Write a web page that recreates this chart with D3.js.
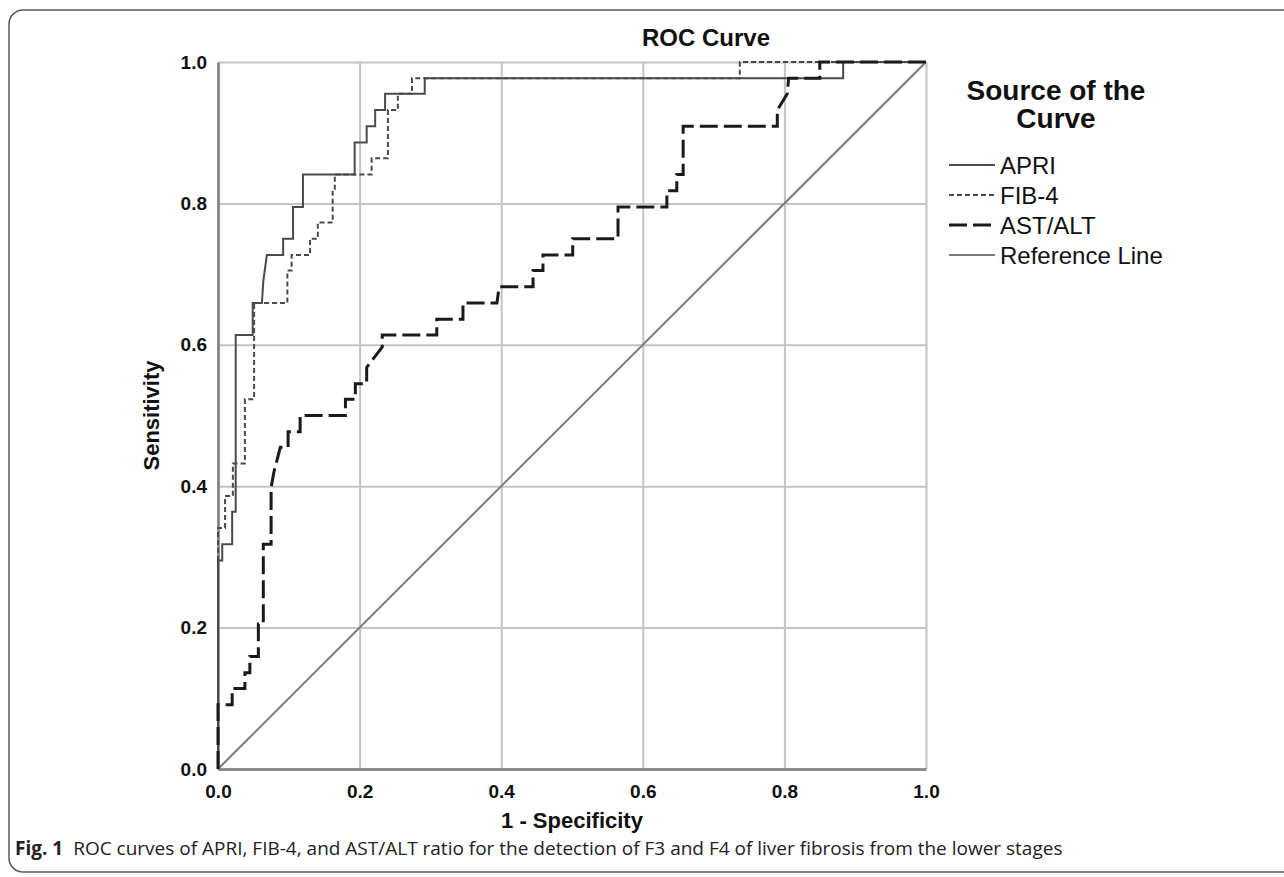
<!DOCTYPE html>
<html>
<head>
<meta charset="utf-8">
<script src="https://cdn.jsdelivr.net/npm/d3@7"></script>
<style>
  body { margin: 0; background: #fff; }
  svg text { font-family: "Liberation Sans", Arial, sans-serif; }
</style>
</head>
<body>
<svg id="chart" width="1284" height="877"></svg>
<script>
// ROC step vertices (1 - specificity, sensitivity)
const apriFpr = [0, 0, 0.006, 0.006, 0.020, 0.020, 0.025, 0.025, 0.049, 0.049, 0.062, 0.064, 0.069, 0.092, 0.092, 0.106, 0.106, 0.120, 0.120, 0.193, 0.193, 0.210, 0.210, 0.222, 0.222, 0.236, 0.236, 0.292, 0.292, 0.883, 0.883, 1];
const apriTpr = [0, 0.295, 0.295, 0.318, 0.318, 0.364, 0.364, 0.614, 0.614, 0.659, 0.659, 0.690, 0.727, 0.727, 0.750, 0.750, 0.795, 0.795, 0.841, 0.841, 0.886, 0.886, 0.909, 0.909, 0.932, 0.932, 0.955, 0.955, 0.977, 0.977, 1, 1];

const fibFpr = [0, 0, 0.010, 0.010, 0.021, 0.021, 0.038, 0.038, 0.051, 0.051, 0.098, 0.098, 0.104, 0.104, 0.130, 0.130, 0.141, 0.141, 0.162, 0.162, 0.165, 0.165, 0.217, 0.217, 0.240, 0.240, 0.254, 0.254, 0.274, 0.274, 0.737, 0.737, 1];
const fibTpr = [0, 0.341, 0.341, 0.386, 0.386, 0.432, 0.432, 0.523, 0.523, 0.659, 0.659, 0.705, 0.705, 0.727, 0.727, 0.750, 0.750, 0.773, 0.773, 0.818, 0.818, 0.841, 0.841, 0.864, 0.864, 0.932, 0.932, 0.955, 0.955, 0.977, 0.977, 1, 1];

const astFpr = [0, 0, 0.020, 0.020, 0.038, 0.038, 0.045, 0.045, 0.057, 0.057, 0.064, 0.064, 0.075, 0.075, 0.079, 0.088, 0.099, 0.099, 0.116, 0.116, 0.180, 0.180, 0.194, 0.194, 0.210, 0.210, 0.232, 0.232, 0.309, 0.309, 0.346, 0.346, 0.394, 0.397, 0.445, 0.445, 0.459, 0.459, 0.501, 0.501, 0.565, 0.565, 0.634, 0.634, 0.648, 0.648, 0.657, 0.657, 0.790, 0.790, 0.804, 0.806, 0.850, 0.850, 1];
const astTpr = [0, 0.091, 0.091, 0.114, 0.114, 0.136, 0.136, 0.159, 0.159, 0.205, 0.205, 0.318, 0.318, 0.398, 0.420, 0.455, 0.455, 0.477, 0.477, 0.500, 0.500, 0.523, 0.523, 0.545, 0.545, 0.568, 0.597, 0.614, 0.614, 0.636, 0.636, 0.659, 0.659, 0.682, 0.682, 0.705, 0.705, 0.727, 0.727, 0.750, 0.750, 0.795, 0.795, 0.818, 0.818, 0.841, 0.841, 0.909, 0.909, 0.932, 0.955, 0.977, 0.977, 1, 1];

const refFpr = [0, 1];
const refTpr = [0, 1];

const tickValues = [0, 0.2, 0.4, 0.6, 0.8, 1.0];
const legendNames = ["APRI", "FIB-4", "AST/ALT", "Reference Line"];

const series = [
  { name: legendNames[0], x: apriFpr, y: apriTpr, color: "#4a4a4a", width: 2, dash: null },
  { name: legendNames[1], x: fibFpr, y: fibTpr, color: "#4a4a4a", width: 2, dash: "5,3" },
  { name: legendNames[2], x: astFpr, y: astTpr, color: "#1a1a1a", width: 3, dash: "18,6" },
  { name: legendNames[3], x: refFpr, y: refTpr, color: "#7a7a7a", width: 2, dash: null }
];

const svg = d3.select("#chart");
const plotLeft = 218, plotRight = 926, plotTop = 62, plotBottom = 769;

const x = d3.scaleLinear().domain([0, 1]).range([plotLeft, plotRight]);
const y = d3.scaleLinear().domain([0, 1]).range([plotBottom, plotTop]);

// outer frame, its right side runs off the page
svg.append("rect")
  .attr("x", 9).attr("y", 10)
  .attr("width", 1300).attr("height", 862)
  .attr("rx", 14)
  .attr("fill", "none")
  .attr("stroke", "#5a5a5a")
  .attr("stroke-width", 1.5);

// grid
svg.append("g")
  .attr("transform", `translate(0,${plotBottom})`)
  .call(d3.axisBottom(x).tickValues(tickValues).tickSize(-(plotBottom - plotTop)).tickFormat(""))
  .call(g => g.select(".domain").remove())
  .selectAll("line").attr("stroke", "#c4c4c4").attr("stroke-width", 2);

svg.append("g")
  .attr("transform", `translate(${plotLeft},0)`)
  .call(d3.axisLeft(y).tickValues(tickValues).tickSize(-(plotRight - plotLeft)).tickFormat(""))
  .call(g => g.select(".domain").remove())
  .selectAll("line").attr("stroke", "#c4c4c4").attr("stroke-width", 2);

// axes
const xAxis = svg.append("g")
  .attr("transform", `translate(0,${plotBottom})`)
  .call(d3.axisBottom(x).tickValues(tickValues).tickSize(0).tickPadding(16).tickFormat(d3.format(".1f")));
const yAxis = svg.append("g")
  .attr("transform", `translate(${plotLeft},0)`)
  .call(d3.axisLeft(y).tickValues(tickValues).tickSize(0).tickPadding(11).tickFormat(d3.format(".1f")));

[xAxis, yAxis].forEach(a => {
  a.select(".domain").attr("stroke", "#7d7d7d").attr("stroke-width", 2.5);
  a.selectAll("text")
    .attr("fill", "#111")
    .style("font-size", "19px")
    .style("font-weight", "bold")
    .style("font-family", "'Liberation Sans', Arial, sans-serif");
});

// curves
const line = d3.line().x(d => x(d[0])).y(d => y(d[1]));

// draw reference first, then the ROC curves on top
[series[3], series[0], series[1], series[2]].forEach(s => {
  svg.append("path")
    .datum(s.x.map((v, i) => [v, s.y[i]]))
    .attr("d", line)
    .attr("fill", "none")
    .attr("stroke", s.color)
    .attr("stroke-width", s.width)
    .attr("stroke-dasharray", s.dash)
    .attr("stroke-linejoin", "miter");
});

// titles
svg.append("text")
  .attr("x", 706).attr("y", 46)
  .attr("text-anchor", "middle")
  .style("font-size", "24px").style("font-weight", "bold")
  .attr("fill", "#111")
  .text("ROC Curve");

svg.append("text")
  .attr("x", (plotLeft + plotRight) / 2).attr("y", 828)
  .attr("text-anchor", "middle")
  .style("font-size", "22px").style("font-weight", "bold")
  .attr("fill", "#111")
  .text("1 - Specificity");

svg.append("text")
  .attr("transform", `translate(159,${(plotTop + plotBottom) / 2}) rotate(-90)`)
  .attr("text-anchor", "middle")
  .style("font-size", "22px").style("font-weight", "bold")
  .attr("fill", "#111")
  .text("Sensitivity");

// legend
const legend = svg.append("g");
legend.append("text")
  .attr("x", 1056).attr("y", 100)
  .attr("text-anchor", "middle")
  .style("font-size", "28px").style("font-weight", "bold")
  .attr("fill", "#111")
  .text("Source of the");
legend.append("text")
  .attr("x", 1056).attr("y", 128)
  .attr("text-anchor", "middle")
  .style("font-size", "28px").style("font-weight", "bold")
  .attr("fill", "#111")
  .text("Curve");

const items = legend.selectAll(".item")
  .data(series)
  .enter().append("g")
  .attr("class", "item")
  .attr("transform", (d, i) => `translate(949, ${165 + i * 30})`);

items.append("line")
  .attr("x1", 0).attr("x2", 46)
  .attr("stroke", d => d.color)
  .attr("stroke-width", d => d.width)
  .attr("stroke-dasharray", d => d.dash);

items.append("text")
  .attr("x", 51).attr("dy", "0.36em")
  .style("font-size", "24px")
  .attr("fill", "#111")
  .text(d => d.name);

// figure caption
const cap = svg.append("text")
  .attr("x", 15).attr("y", 855)
  .style("font-family", "'Open Sans', sans-serif")
  .style("font-size", "19px")
  .attr("fill", "#222");
cap.append("tspan").style("font-weight", "bold").text("Fig. 1");
cap.append("tspan").attr("dx", 10)
  .text("ROC curves of APRI, FIB-4, and AST/ALT ratio for the detection of F3 and F4 of liver fibrosis from the lower stages");
</script>
</body>
</html>
